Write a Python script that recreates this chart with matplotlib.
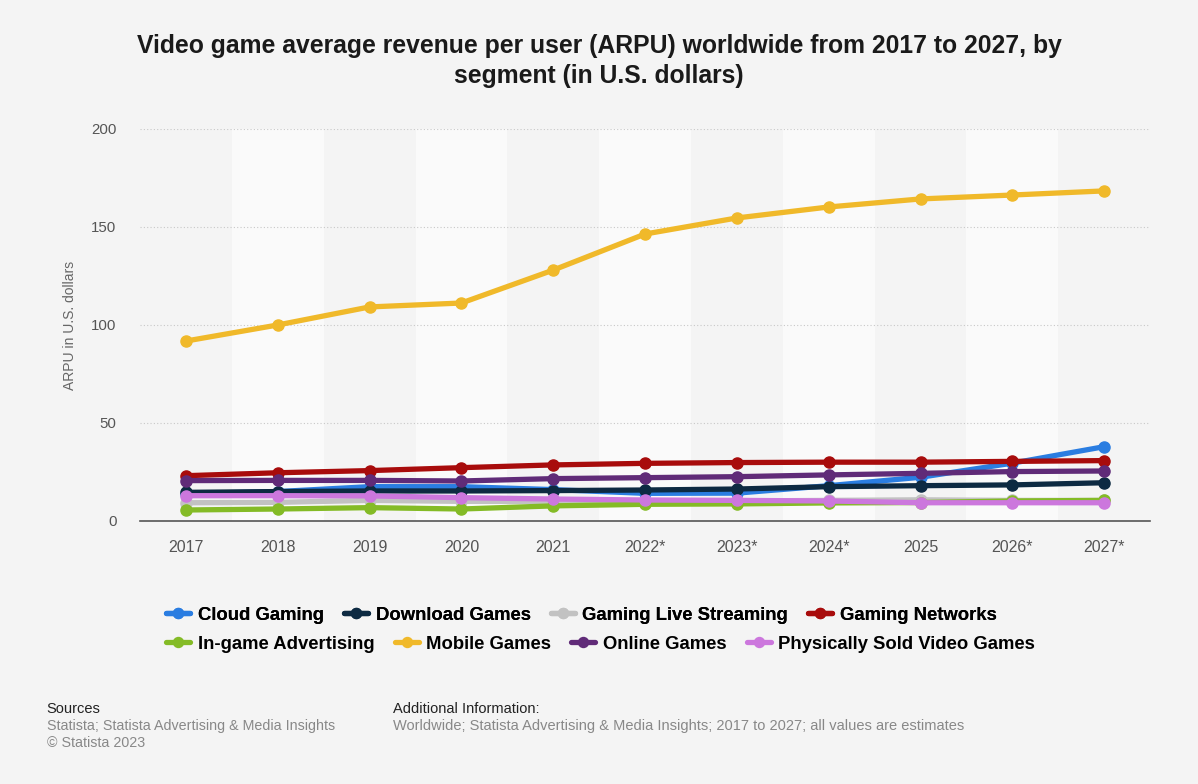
#!/usr/bin/env python3

import matplotlib.pyplot as plt
import numpy as np

years = ['2017', '2018', '2019', '2020', '2021', '2022*', '2023*', '2024*', '2025', '2026*', '2027*']

series_names = ['Cloud Gaming', 'Download Games', 'Gaming Live Streaming', 'Gaming Networks',
                'In-game Advertising', 'Mobile Games', 'Online Games', 'Physically Sold Video Games']

cloud_gaming = [14.0, 15.0, 17.5, 17.5, 16.0, 14.1, 14.2, 18.0, 22.3, 29.5, 37.9]
download_games = [14.6, 15.0, 15.3, 15.3, 15.5, 15.8, 16.3, 17.5, 18.0, 18.4, 19.5]
live_streaming = [9.3, 9.5, 10.5, 10.0, 10.0, 10.0, 10.2, 10.5, 10.8, 10.5, 10.5]
gaming_networks = [23.1, 24.6, 25.7, 27.2, 28.6, 29.4, 29.8, 30.0, 30.0, 30.4, 30.8]
ingame_ads = [5.6, 6.1, 6.8, 6.1, 7.7, 8.5, 8.7, 9.2, 9.4, 10.2, 10.5]
mobile_games = [91.8, 100.0, 109.2, 111.2, 128.0, 146.4, 154.6, 160.2, 164.3, 166.3, 168.4]
online_games = [20.6, 20.7, 20.7, 20.4, 21.6, 22.1, 22.6, 23.5, 24.3, 25.2, 25.5]
physical_games = [12.9, 12.9, 12.8, 11.9, 11.2, 10.7, 10.5, 10.2, 9.3, 9.3, 9.3]

colors = ['#2a7de1', '#0d2a42', '#c2c2c2', '#a80c0c', '#84bb26', '#f0b92a', '#602b78', '#cc77dd']


def main():
    all_series = [cloud_gaming, download_games, live_streaming, gaming_networks,
                  ingame_ads, mobile_games, online_games, physical_games]
    x = np.arange(len(years))
    fam = ['Liberation Sans', 'DejaVu Sans']
    plt.rcParams['font.family'] = fam

    bg = '#f4f4f4'
    fig = plt.figure(figsize=(11.98, 7.84), dpi=100, facecolor=bg)
    ax = fig.add_axes([0.1169, 0.3355, 0.8431, 0.5], facecolor=bg)

    # alternating column bands
    for i in x:
        if i % 2 == 1:
            ax.axvspan(i - 0.5, i + 0.5, color='#fafafa', zorder=0, lw=0)

    handles = []
    for name, vals, c in zip(series_names, all_series, colors):
        h, = ax.plot(x, vals, color=c, lw=3.8, marker='o', ms=8, label=name,
                     solid_capstyle='round', zorder=3)
        handles.append(h)

    ax.set_xlim(-0.5, 10.5)
    ax.set_ylim(0, 200)
    ax.set_yticks([0, 50, 100, 150, 200])
    ax.set_xticks(x)
    ax.set_xticklabels(years)
    ax.grid(axis='y', color='#c8c8c8', linestyle=(0, (1, 2)), lw=0.8, zorder=1)
    ax.tick_params(axis='both', length=0, colors='#555555')
    ax.tick_params(axis='x', pad=14, labelsize=11.5)
    ax.tick_params(axis='y', pad=17, labelsize=10.8)
    for s in ['top', 'right', 'left']:
        ax.spines[s].set_visible(False)
    ax.spines['bottom'].set_color('#555555')
    ax.spines['bottom'].set_linewidth(1.2)
    ax.set_ylabel('ARPU in U.S. dollars', color='#666666', fontsize=10, labelpad=10)

    fig.text(0.5, 0.922, 'Video game average revenue per user (ARPU) worldwide from 2017 to 2027, by\nsegment (in U.S. dollars)',
             ha='center', va='center', fontsize=17.8, fontweight='bold', color='#1a1a1a',
             linespacing=1.35)

    leg_font = {'family': ['Liberation Sans Narrow', 'Liberation Sans', 'DejaVu Sans'],
                'weight': 'bold', 'size': 13.3}
    leg1 = fig.legend(handles[:4], series_names[:4], loc='center left', bbox_to_anchor=(0.125, 0.215),
                      ncol=4, frameon=False, prop=leg_font, handlelength=1.3, handletextpad=0.4,
                      columnspacing=1.1, markerscale=0.9)
    fig.legend(handles[4:], series_names[4:], loc='center left', bbox_to_anchor=(0.125, 0.178),
               ncol=4, frameon=False, prop=leg_font, handlelength=1.3, handletextpad=0.4,
               columnspacing=1.1, markerscale=0.9)
    fig.add_artist(leg1)

    fig.text(0.039, 0.091, 'Sources', fontsize=10.5, color='#222222')
    fig.text(0.039, 0.069, 'Statista; Statista Advertising & Media Insights', fontsize=10.3, color='#888888')
    fig.text(0.039, 0.047, '\u00a9 Statista 2023', fontsize=10.3, color='#888888')
    fig.text(0.328, 0.091, 'Additional Information:', fontsize=10.5, color='#222222')
    fig.text(0.328, 0.069, 'Worldwide; Statista Advertising & Media Insights; 2017 to 2027; all values are estimates',
             fontsize=10.5, color='#888888')

    fig.savefig('out.png', dpi=100, facecolor=bg)


if __name__ == '__main__':
    main()
